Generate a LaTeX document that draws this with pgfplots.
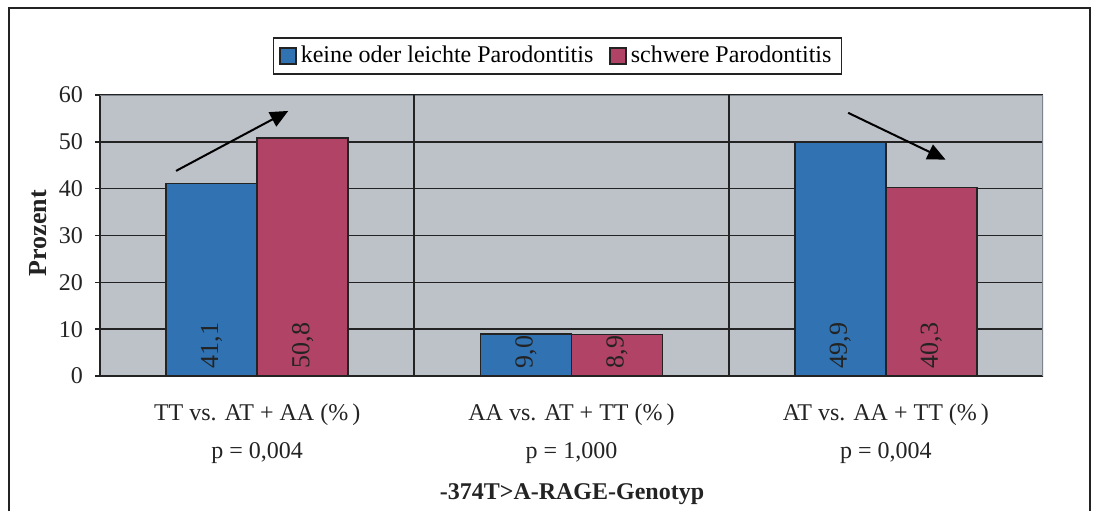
\documentclass[border=0pt]{standalone}
\usepackage{pgfplots}
\pgfplotsset{compat=1.18}
\usepackage{pgfplotstable}
\usepackage{fontspec}
\setmainfont{Liberation Serif}
\usetikzlibrary{arrows.meta}

\definecolor{barblue}{RGB}{49,115,178}
\definecolor{barred}{RGB}{176,67,102}
\definecolor{plotbg}{RGB}{189,193,200}
\definecolor{edge}{RGB}{35,35,35}
\definecolor{rim}{RGB}{125,131,138}

% share of patients per genotype contrast (percent)
\pgfplotstableread{
x keine schwere
0 41.1 50.8
1 9.0  8.9
2 49.9 40.3
}\genotyp

\begin{document}
\begin{tikzpicture}[font=\fontsize{12}{14.4}\selectfont]
\path[use as bounding box] (0,0) rectangle (551pt,255.5pt);
\begin{axis}[
  at={(50pt,67.5pt)}, anchor=south west,
  scale only axis, width=471.5pt, height=140.5pt,
  xmin=-0.5, xmax=2.5, ymin=0, ymax=60,
  ybar=0pt, bar width=45.5pt,
  axis lines*=left,
  axis line style={edge, line width=0.9pt},
  axis background/.style={fill=plotbg},
  ytick={0,10,...,60},
  ymajorgrids,
  major grid style={edge, line width=0.8pt},
  tick align=outside, ytick pos=left,
  major tick length=2.5pt,
  tick style={edge, line width=0.8pt},
  xtick={0,1,2},
  xtick style={draw=none},
  xticklabels={
    {TT vs. AT + AA (\%\,)\\[4.6pt]p = 0,004},
    {AA vs. AT + TT (\%\,)\\[4.6pt]p = 1,000},
    {AT vs. AA + TT (\%\,)\\[4.6pt]p = 0,004}},
  xticklabel style={align=center, yshift=-8pt, text=edge},
  yticklabel style={text=edge, xshift=-2.5pt},
  /pgf/number format/assume math mode=true,
  /pgf/number format/use comma,
  /pgf/number format/fixed,
  /pgf/number format/fixed zerofill,
  /pgf/number format/precision=1,
  yticklabel={\pgfmathprintnumber[fixed, precision=0, fixed zerofill=false]{\tick}},
  nodes near coords,
  visualization depends on={y \as \rawy},
  nodes near coords style={shift={(axis direction cs:0,-\rawy)}, rotate=90,
    anchor=west, text=edge, inner sep=3.5pt, font=\fontsize{13}{15}\selectfont},
  legend columns=2,
  legend style={at={(0.485,1.139)}, anchor=center, draw=edge,
    line width=0.75pt, fill=white, inner xsep=3pt, inner ysep=2pt,
    /tikz/every even column/.append style={column sep=6pt}},
  legend image code/.code={\draw[#1,draw=edge,line width=0.75pt] (0pt,-4pt) rectangle (8pt,4pt);},
]
\addplot[fill=barblue, draw=edge, line width=0.75pt] table[x=x, y=keine]{\genotyp};
\addlegendentry{keine oder leichte Parodontitis}
\addplot[fill=barred, draw=edge, line width=0.75pt] table[x=x, y=schwere]{\genotyp};
\addlegendentry{schwere Parodontitis}

% upper and right rim of the plot area
\draw[rim, line width=0.8pt] (rel axis cs:0,1) -- (rel axis cs:1,1) -- (rel axis cs:1,0);
% group separators reaching into the label area
\draw[edge, line width=0.9pt] (axis cs:0.5,60) -- ([yshift=-47pt]axis cs:0.5,0);
\draw[edge, line width=0.9pt] (axis cs:1.5,60) -- ([yshift=-47pt]axis cs:1.5,0);
\draw[edge, line width=0.8pt] (axis cs:-0.5,0) -- ++(0pt,-3pt);
\draw[edge, line width=0.8pt] (axis cs:2.5,0) -- ++(0pt,-3pt);
% trend arrows
\draw[-{Triangle[length=9pt,width=8pt]}, line width=1pt] (axis cs:-0.258,43.8) -- (axis cs:0.099,56.6);
\draw[-{Triangle[length=9pt,width=8pt]}, line width=1pt] (axis cs:1.88,56.2) -- (axis cs:2.19,46.2);
\end{axis}
\node[font=\bfseries\fontsize{12}{14.4}\selectfont, text=edge] at (286pt,8.5pt) {-374T\textgreater A-RAGE-Genotyp};
\node[font=\bfseries\fontsize{13}{15}\selectfont, text=edge, rotate=90] at (19pt,139pt) {Prozent};
\draw[edge, line width=1pt] (4.5pt,0) -- (4.5pt,251.5pt) -- (545pt,251.5pt) -- (545pt,0);
\end{tikzpicture}
\end{document}
